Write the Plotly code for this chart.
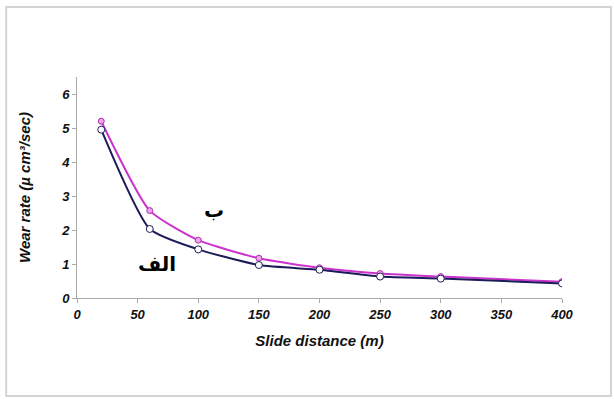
import plotly.graph_objects as go

slide_distance = [20, 60, 100, 150, 200, 250, 300, 400]
wear_alef = [4.95, 2.03, 1.43, 0.97, 0.83, 0.63, 0.57, 0.43]
wear_beh = [5.2, 2.57, 1.7, 1.17, 0.89, 0.72, 0.63, 0.48]
x_ticks = [0, 50, 100, 150, 200, 250, 300, 350, 400]
y_ticks = [0, 1, 2, 3, 4, 5, 6]

def bi(s):
    return "<b><i>" + str(s) + "</i></b>"

fig = go.Figure()
fig.add_trace(go.Scatter(
    x=slide_distance, y=wear_beh, mode="lines+markers", line_shape="spline",
    line=dict(color="#cc33cc", width=2, smoothing=0.55),
    marker=dict(symbol="circle", size=6, color="#e9a6e9", line=dict(color="#b02cb0", width=1)),
    showlegend=False))
fig.add_trace(go.Scatter(
    x=slide_distance, y=wear_alef, mode="lines+markers", line_shape="spline",
    line=dict(color="#1c1c5a", width=2, smoothing=0.55),
    marker=dict(symbol="circle", size=7, color="white", line=dict(color="#1c1c5a", width=1)),
    showlegend=False))

fig.add_annotation(x=113, y=2.58, text="<b>ب</b>", showarrow=False,
                   font=dict(family="DejaVu Sans", size=20, color="black"))
fig.add_annotation(x=66, y=1.0, text="<b>الف</b>", showarrow=False,
                   font=dict(family="DejaVu Sans", size=20, color="black"))

fig.add_shape(type="rect", xref="paper", yref="paper",
              x0=-0.146, x1=1.101, y0=-0.443, y1=1.317,
              line=dict(color="#d4d4d4", width=2), fillcolor="rgba(0,0,0,0)")

tickfont = dict(family="Liberation Sans", size=13, color="#111111")
titlefont = dict(family="Liberation Sans", size=15, color="#111111")
fig.update_layout(
    width=614, height=399,
    margin=dict(l=77, r=52, t=77, b=101),
    paper_bgcolor="white", plot_bgcolor="white",
    xaxis=dict(range=[0, 400], tickvals=x_ticks, ticktext=[bi(v) for v in x_ticks],
               showgrid=False, zeroline=False,
               showline=True, linecolor="#aaaaaa", linewidth=1,
               ticks="outside", ticklen=4, tickcolor="#aaaaaa",
               tickfont=tickfont,
               title=dict(text=bi("Slide distance (m)"), standoff=14, font=titlefont)),
    yaxis=dict(range=[0, 6.5], tickvals=y_ticks, ticktext=[bi(v) for v in y_ticks],
               showgrid=False, zeroline=False,
               showline=True, linecolor="#aaaaaa", linewidth=1,
               ticks="outside", ticklen=4, tickcolor="#aaaaaa",
               tickfont=tickfont,
               title=dict(text=bi("Wear rate (µ cm³/sec)"), standoff=26, font=titlefont)),
)
fig.write_html("out.html")
